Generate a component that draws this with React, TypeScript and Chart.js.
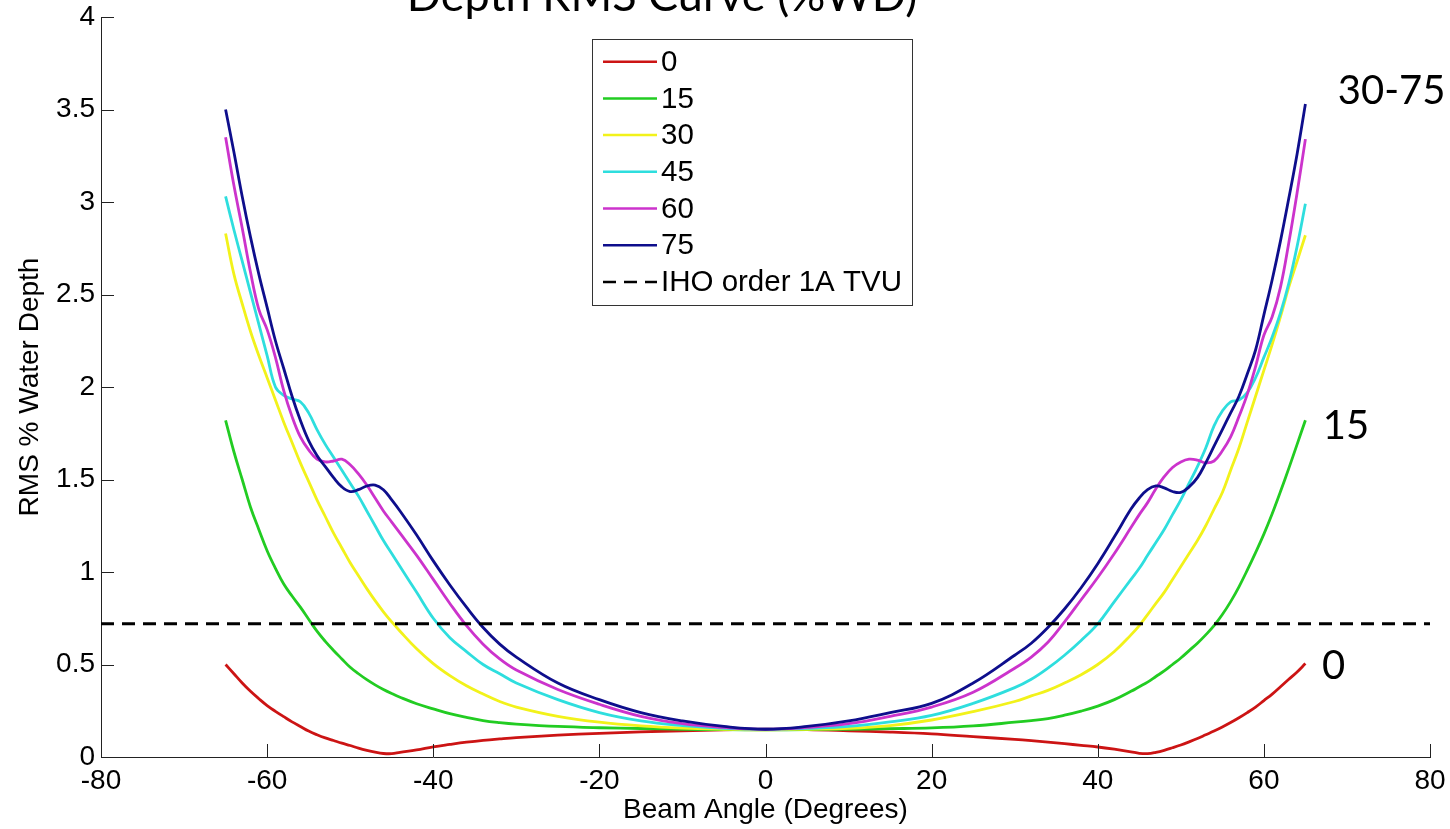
import React, { useEffect, useRef } from "react";
import { Chart, registerables } from "chart.js";

Chart.register(...registerables);

// ---- data ----
const ANGLES = [
  -65, -64, -63, -62, -61, -60, -59, -58, -57, -56, -55, -54, -53, -52, -51, -50, -49, -48, -47, -46, -45, -44,
  -42, -40, -38, -36, -34, -32,
  -30, -25, -20, -15, -10, -5, 0, 5, 10, 15, 20, 25, 30,
  32, 34, 36, 38, 40, 42,
  44, 45, 46, 47, 48, 49, 50, 51, 52, 53, 54, 55, 56, 57, 58, 59, 60, 61, 62, 63, 64, 65,
];

const RMS_0 = [
  0.5, 0.45, 0.4, 0.355, 0.315, 0.278, 0.247, 0.218, 0.19, 0.165, 0.14, 0.12, 0.103, 0.089, 0.075, 0.062, 0.048, 0.036, 0.026, 0.019, 0.018, 0.025,
  0.038, 0.055, 0.068, 0.08, 0.09, 0.098,
  0.105, 0.118, 0.128, 0.136, 0.142, 0.147, 0.15, 0.148, 0.142, 0.135, 0.125, 0.11, 0.095,
  0.088, 0.08, 0.072, 0.063, 0.054, 0.042,
  0.028, 0.02, 0.018, 0.025, 0.036, 0.05, 0.065, 0.082, 0.1, 0.12, 0.14, 0.162, 0.186, 0.212, 0.24, 0.27, 0.305, 0.34, 0.38, 0.42, 0.46, 0.505,
];

const RMS_15 = [
  1.82, 1.65, 1.5, 1.35, 1.23, 1.115, 1.02, 0.935, 0.87, 0.81, 0.745, 0.68, 0.625, 0.576, 0.53, 0.485, 0.45, 0.418, 0.39, 0.365, 0.343, 0.323,
  0.288, 0.26, 0.234, 0.214, 0.197, 0.186,
  0.178, 0.165, 0.158, 0.154, 0.15, 0.148, 0.147, 0.148, 0.15, 0.153, 0.157, 0.168, 0.188,
  0.197, 0.208, 0.226, 0.248, 0.275, 0.31,
  0.355, 0.38, 0.405, 0.435, 0.465, 0.5, 0.535, 0.575, 0.615, 0.66, 0.71, 0.77, 0.84, 0.92, 1.01, 1.105, 1.205, 1.315, 1.435, 1.56, 1.69, 1.82,
];

const RMS_30 = [
  2.83, 2.61, 2.45, 2.3, 2.17, 2.05, 1.93, 1.81, 1.7, 1.59, 1.49, 1.39, 1.3, 1.21, 1.13, 1.05, 0.98, 0.91, 0.845, 0.785, 0.73, 0.68,
  0.585, 0.505, 0.44, 0.385, 0.34, 0.3,
  0.27, 0.22, 0.188, 0.168, 0.156, 0.15, 0.147, 0.15, 0.155, 0.17, 0.2, 0.245, 0.3,
  0.33, 0.36, 0.4, 0.445, 0.5, 0.57,
  0.66, 0.71, 0.77, 0.83, 0.89, 0.96, 1.03, 1.1, 1.17, 1.25, 1.34, 1.43, 1.55, 1.67, 1.81, 1.95, 2.09, 2.23, 2.38, 2.54, 2.68, 2.82,
];

const RMS_45 = [
  3.03, 2.85, 2.68, 2.51, 2.34, 2.17, 2.0, 1.955, 1.935, 1.92, 1.86, 1.77, 1.69, 1.62, 1.55, 1.48, 1.41, 1.33, 1.25, 1.17, 1.1, 1.03,
  0.89, 0.75, 0.645, 0.57, 0.5, 0.45,
  0.4, 0.31, 0.24, 0.195, 0.17, 0.155, 0.15, 0.155, 0.165, 0.19, 0.225, 0.29, 0.375,
  0.42, 0.48, 0.55, 0.63, 0.72, 0.84,
  0.96, 1.02, 1.09, 1.16, 1.23, 1.31, 1.39, 1.48, 1.57, 1.67, 1.79, 1.87, 1.92, 1.93, 1.97, 2.05, 2.16, 2.27, 2.4, 2.56, 2.76, 2.99,
];

const RMS_60 = [
  3.35, 3.09, 2.86, 2.62, 2.42, 2.31, 2.16, 1.98, 1.84, 1.73, 1.66, 1.61, 1.595, 1.6, 1.61, 1.58, 1.53, 1.47, 1.4, 1.33, 1.27, 1.21,
  1.09, 0.96, 0.83, 0.71, 0.61, 0.53,
  0.47, 0.365, 0.285, 0.22, 0.18, 0.16, 0.15, 0.16, 0.18, 0.22, 0.27, 0.35, 0.48,
  0.54, 0.62, 0.73, 0.85, 0.97, 1.1,
  1.24, 1.31, 1.375, 1.45, 1.515, 1.565, 1.595, 1.61, 1.605, 1.59, 1.6, 1.655, 1.73, 1.84, 1.96, 2.11, 2.28, 2.38, 2.54, 2.78, 3.05, 3.34,
];

const RMS_75 = [
  3.5, 3.27, 3.03, 2.81, 2.61, 2.43, 2.25, 2.1, 1.95, 1.82, 1.71, 1.63, 1.57, 1.51, 1.46, 1.435, 1.445, 1.465, 1.47, 1.445, 1.39, 1.33,
  1.2, 1.06, 0.93, 0.81, 0.7, 0.61,
  0.54, 0.4, 0.31, 0.24, 0.195, 0.165, 0.15, 0.165, 0.195, 0.24, 0.29, 0.4, 0.55,
  0.615, 0.7, 0.8, 0.915, 1.045, 1.19,
  1.34, 1.4, 1.445, 1.465, 1.455, 1.435, 1.43, 1.46, 1.51, 1.59, 1.68, 1.77, 1.86, 1.95, 2.07, 2.2, 2.39, 2.58, 2.79, 3.02, 3.26, 3.53,
];

const SERIES_VALUES = [RMS_0, RMS_15, RMS_30, RMS_45, RMS_60, RMS_75];
const SERIES_LABELS = ["0", "15", "30", "45", "60", "75"];
const SERIES_COLORS = ["#cc1414", "#22cc22", "#f2f21a", "#2edede", "#cc33cc", "#0e0e8c"];

const IHO_LABEL = "IHO order 1A TVU";
const IHO_TVU = 0.72;

const X_MIN = -80;
const X_MAX = 80;
const X_STEP = 20;
const Y_MIN = 0;
const Y_MAX = 4;
const Y_STEP = 0.5;

const TITLE = "Depth RMS Curve (%WD)";
const X_TITLE = "Beam Angle (Degrees)";
const Y_TITLE = "RMS % Water Depth";

// group annotations, anchored in data coordinates (left edge / baseline)
const ANNOTATION_TEXTS = ["30-75", "15", "0"];
const ANNOTATION_X = [68.9, 67.1, 67.0];
const ANNOTATION_Y = [3.53, 1.72, 0.42];

const FONT = "'Liberation Sans', Arial, Helvetica, sans-serif";
const ANNOT_FONT = "Lato, 'Open Sans', sans-serif";

const decorPlugin = {
  id: "decor",
  afterDatasetsDraw(chart: any) {
    const { ctx, chartArea, scales } = chart;
    const xs = scales.x;
    const ys = scales.y;
    ctx.save();
    // inward tick marks
    ctx.strokeStyle = "#222";
    ctx.lineWidth = 1;
    const tickLen = 13;
    xs.ticks.forEach((t: any) => {
      const px = Math.round(xs.getPixelForValue(t.value)) + 0.5;
      ctx.beginPath();
      ctx.moveTo(px, chartArea.bottom);
      ctx.lineTo(px, chartArea.bottom - tickLen);
      ctx.stroke();
    });
    ys.ticks.forEach((t: any) => {
      const py = Math.round(ys.getPixelForValue(t.value)) + 0.5;
      ctx.beginPath();
      ctx.moveTo(chartArea.left, py);
      ctx.lineTo(chartArea.left + tickLen, py);
      ctx.stroke();
    });

    // legend box
    const bx = 592.5, by = 39.5, bw = 320, bh = 266;
    ctx.fillStyle = "#fff";
    ctx.fillRect(bx, by, bw, bh);
    ctx.strokeStyle = "#333";
    ctx.lineWidth = 1;
    ctx.strokeRect(bx, by, bw, bh);
    ctx.font = `29.5px ${FONT}`;
    ctx.textBaseline = "middle";
    ctx.textAlign = "left";
    chart.data.datasets.forEach((ds: any, i: number) => {
      const cy = 61.7 + i * 36.7;
      ctx.beginPath();
      ctx.strokeStyle = ds.borderColor;
      ctx.lineWidth = 2.5;
      ctx.setLineDash(ds.borderDash || []);
      ctx.moveTo(603, cy);
      ctx.lineTo(657, cy);
      ctx.stroke();
      ctx.setLineDash([]);
      ctx.fillStyle = "#000";
      ctx.fillText(ds.label, 661, cy + 1);
    });

    // annotations
    ctx.font = `40px ${ANNOT_FONT}`;
    ctx.textBaseline = "alphabetic";
    ctx.fillStyle = "#000";
    ANNOTATION_TEXTS.forEach((txt, i) => {
      ctx.fillText(txt, xs.getPixelForValue(ANNOTATION_X[i]), ys.getPixelForValue(ANNOTATION_Y[i]));
    });

    // clipped title
    ctx.font = `45px ${ANNOT_FONT}`;
    ctx.textAlign = "center";
    ctx.fillText(TITLE, 662, 11);
    ctx.restore();
  },
};

export default function App() {
  const ref = useRef<HTMLCanvasElement | null>(null);

  useEffect(() => {
    if (!ref.current) return;
    const datasets: any[] = SERIES_VALUES.map((vals, i) => ({
      label: SERIES_LABELS[i],
      data: ANGLES.map((a, j) => ({ x: a, y: vals[j] })),
      borderColor: SERIES_COLORS[i],
      backgroundColor: SERIES_COLORS[i],
      borderWidth: 2.8,
      pointRadius: 0,
      tension: 0.4,
      fill: false,
      order: SERIES_VALUES.length - i + 1,
    }));
    datasets.push({
      label: IHO_LABEL,
      data: [
        { x: X_MIN, y: IHO_TVU },
        { x: X_MAX, y: IHO_TVU },
      ],
      borderColor: "#000",
      backgroundColor: "#000",
      borderDash: [13, 8],
      borderWidth: 3,
      pointRadius: 0,
      fill: false,
      order: 0,
    });

    const chart = new Chart(ref.current, {
      type: "line",
      data: { datasets },
      plugins: [decorPlugin],
      options: {
        responsive: false,
        animation: false,
        layout: { padding: { top: 17, right: 20, left: 0, bottom: 0 } },
        plugins: {
          legend: { display: false },
          title: { display: false },
          tooltip: { enabled: false },
        },
        scales: {
          x: {
            type: "linear",
            min: X_MIN,
            max: X_MAX,
            ticks: {
              stepSize: X_STEP,
              color: "#000",
              font: { family: FONT, size: 28 },
              padding: 7,
              maxRotation: 0,
              autoSkip: false,
              callback: (v: any) => String(v),
            },
            grid: { drawOnChartArea: false, drawTicks: false },
            border: { display: true, color: "#222", width: 1 },
            title: {
              display: true,
              text: X_TITLE,
              color: "#000",
              font: { family: FONT, size: 28 },
              padding: { top: 0, bottom: 2 },
            },
            afterFit: (s: any) => {
              s.height = 72;
              s.paddingLeft = 0;
              s.paddingRight = 0;
            },
          },
          y: {
            type: "linear",
            min: Y_MIN,
            max: Y_MAX,
            ticks: {
              stepSize: Y_STEP,
              color: "#000",
              font: { family: FONT, size: 28 },
              padding: 6,
              autoSkip: false,
              callback: (v: any) => String(v),
            },
            grid: { drawOnChartArea: false, drawTicks: false },
            border: { display: true, color: "#222", width: 1 },
            title: {
              display: true,
              text: Y_TITLE,
              color: "#000",
              font: { family: FONT, size: 28 },
              padding: { top: 13, bottom: 0 },
            },
            afterFit: (s: any) => {
              s.width = 101;
              s.paddingTop = 0;
              s.paddingBottom = 0;
            },
          },
        },
      },
    });
    return () => chart.destroy();
  }, []);

  return (
    <div style={{ position: "absolute", left: 0, top: 0, width: 1450, height: 829, background: "#fff" }}>
      <canvas ref={ref} width={1450} height={829} style={{ width: 1450, height: 829, display: "block" }} />
    </div>
  );
}
